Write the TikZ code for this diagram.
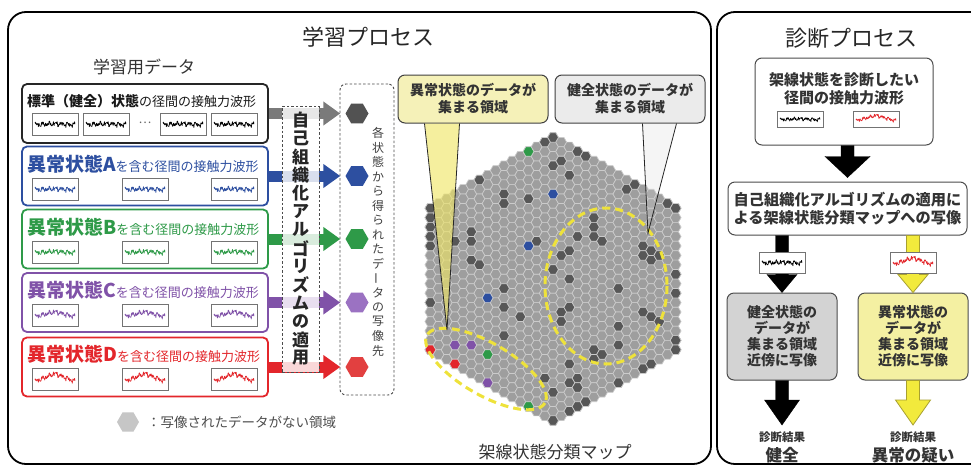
\documentclass[tikz,border=0pt]{standalone}
\usepackage{fontspec}
\setmainfont{Noto Sans CJK JP}
\usetikzlibrary{arrows.meta,calc,shapes.geometric}
\definecolor{cBlue}{HTML}{2D4FA0}
\definecolor{cGreen}{HTML}{2E9A48}
\definecolor{cPurple}{HTML}{8052A8}
\definecolor{cRed}{HTML}{E3262B}
\definecolor{cGrayA}{HTML}{7A7A7A}
\definecolor{hPurple}{HTML}{9B72C2}
\definecolor{hRed}{HTML}{E24040}
\definecolor{hLeg}{HTML}{C6C6C6}
\definecolor{yPtr}{HTML}{F0E664}
\definecolor{cellF}{HTML}{9E9E9E}
\definecolor{cellL}{HTML}{CBCBCB}
\definecolor{cellD}{HTML}{575757}
\definecolor{yFill}{HTML}{F5F1B8}
\definecolor{gFill}{HTML}{EBEBEB}
\definecolor{yDash}{HTML}{EEE23A}
\definecolor{yArrow}{HTML}{F2EA3C}
\definecolor{yArrowL}{HTML}{A8A030}
\definecolor{gBox}{HTML}{D3D3D3}
\definecolor{yBox}{HTML}{F4F0A2}
\definecolor{txt}{HTML}{333333}
\newcommand\fz[2]{\fontsize{#1}{#2}\selectfont}
\newcommand\wave[6]{%
  \node[wbox, minimum height=#6pt] (#1) at ({#2+23},{#3+#6/2}) {};
  \draw[#4, line width=0.7pt, line join=round] plot[domain=0:1, samples=120]
   ({#2+3+40*\x}, {#3+#6/2+0.5-(#6/22)*(1.2*sin(2300*\x)+0.9*sin(4100*\x+40)+0.8*sin(7300*\x+10)+0.8*sin(11000*\x+70)+0.6*sin(15700*\x+20))-#5*(0.75-2*abs(\x-0.5))});
}
\newcommand\fatarrow[6]{%
  \draw[#1] let \p1=(#2), \p2=(#3) in
   (\x1-#4pt,\y1) -- (\x1-#4pt,\y2+#6pt) -- (\x1-#5pt,\y2+#6pt) -- (\x1,\y2)
   -- (\x1+#5pt,\y2+#6pt) -- (\x1+#4pt,\y2+#6pt) -- (\x1+#4pt,\y1) -- cycle;}
\tikzset{
  panel/.style={draw=black, line width=1.8pt, rounded corners=18pt},
  dbox/.style={draw=#1, line width=1.8pt, rounded corners=5pt, fill=white, minimum width=246pt, minimum height=59pt},
  wbox/.style={draw=black!55, line width=0.8pt, fill=white, minimum width=46pt},
  hexmark/.style={regular polygon, regular polygon sides=6, minimum size=23pt, fill=#1},
  larrow/.style={line width=11pt, draw=#1, -{Triangle[length=17pt,width=23pt]}},
  dashbox/.style={draw=black!70, line width=0.9pt, dash pattern=on 2.5pt off 2pt},
  cell/.style={fill=cellF, draw=cellL, line width=0.7pt},
  ydash/.style={draw=yDash, line width=3pt, dash pattern=on 8pt off 5pt},
  rbox/.style={draw=black!70, line width=1pt, rounded corners=7pt, fill=white},
  vch/.style={font=\fz{12}{13}, text=black!75}
}
\begin{document}
\begin{tikzpicture}[x=1pt,y=-1pt, every node/.style={inner sep=0pt}]
\useasboundingbox (0,0) rectangle (971,469);
\fill[white] (0,0) rectangle (971,469);
% panels
\draw[panel] (8,12) rectangle (711,464);
\draw[panel] (717,12) rectangle (995,464);
\node[font=\fz{22}{26}, text=black!85] (t1) at (368,37) {学習プロセス};
\node[font=\fz{22}{26}, text=black!85] (t2) at (851,38) {診断プロセス};
\node[font=\fz{17}{20}, text=txt] (t3) at (144,67) {学習用データ};
% data boxes
\node[dbox=black!85] (d1) at (145,113.5) {};
\node[dbox=cBlue] (d2) at (145,176) {};
\node[dbox=cGreen] (d3) at (145,239) {};
\node[dbox=cPurple] (d4) at (145,302.5) {};
\node[dbox=cRed] (d5) at (145,367) {};
\node[anchor=west, text=black!90] (l1) at (27,101) {{\bfseries\fz{14}{16}標準（健全）状態}{\fz{13}{16}の径間の接触力波形}};
\node[anchor=west, text=cBlue] (l2) at (27,164) {{\bfseries\fz{19}{20}異常状態A}{\fz{13}{16}を含む径間の接触力波形}};
\node[anchor=west, text=cGreen] (l3) at (27,227) {{\bfseries\fz{19}{20}異常状態B}{\fz{13}{16}を含む径間の接触力波形}};
\node[anchor=west, text=cPurple] (l4) at (27,290) {{\bfseries\fz{19}{20}異常状態C}{\fz{13}{16}を含む径間の接触力波形}};
\node[anchor=west, text=cRed] (l5) at (27,354) {{\bfseries\fz{19}{20}異常状態D}{\fz{13}{16}を含む径間の接触力波形}};
% waveforms
\wave{w11}{32}{113}{black}{1}{22}
\wave{w12}{83}{113}{black}{1}{22}
\node[font=\fz{12}{12}, text=black!60] (dots) at (145,123) {…};
\wave{w13}{160}{113}{black}{1}{22}
\wave{w14}{211}{113}{black}{1}{22}
\foreach \xx [count=\i] in {32,122,211}{
  \wave{w2\i}{\xx}{178}{cBlue}{1}{22}
  \wave{w3\i}{\xx}{241}{cGreen}{1.5}{22}
  \wave{w4\i}{\xx}{304}{cPurple}{5}{22}
  \wave{w5\i}{\xx}{368}{cRed}{8}{22}
}
% destination hexes
\node[dashbox, rounded corners=6pt, minimum width=54pt, minimum height=311pt] (dst) at (367,239.5) {};
\node[hexmark=black!68] (h1) at (357,113.5) {};
\node[hexmark=cBlue] (h2) at (357,176) {};
\node[hexmark=cGreen] (h3) at (357,239) {};
\node[hexmark=hPurple] (h4) at (357,302.5) {};
\node[hexmark=hRed] (h5) at (357,367) {};
% arrows
\draw[larrow=cGrayA, shorten >=5pt] (d1.east) -- (h1.west);
\draw[larrow=cBlue, shorten >=5pt] (d2.east) -- (h2.west);
\draw[larrow=cGreen, shorten >=5pt] (d3.east) -- (h3.west);
\draw[larrow=cPurple, shorten >=5pt] (d4.east) -- (h4.west);
\draw[larrow=cRed, shorten >=5pt] (d5.east) -- (h5.west);
% algorithm box
\node[dashbox, fill=white, fill opacity=0.82, minimum width=37pt, minimum height=266pt] (alg) at (300.5,239) {};
\foreach \c [count=\i] in {自,己,組,織,化,ア,ル,ゴ,リ,ズ,ム,の,適,用}{
  \node[font=\bfseries\fz{17}{18}, text=black!85] (va\i) at (300.5,{120+18.3*(\i-1)}) {\c};
}
\foreach \c/\r [count=\i] in {各/0,状/0,態/0,か/0,ら/0,得/0,ら/0,れ/0,た/0,デ/0,ー/90,タ/0,の/0,写/0,像/0,先/0}{
  \node[vch, rotate=\r] (vb\i) at (378,{133+14.5*(\i-1)}) {\c};
}
% map cells
\foreach \q in {-15,...,15}{
  \pgfmathtruncatemacro\kmin{max(-15,-15-\q)}
  \pgfmathtruncatemacro\kmax{min(15,15-\q)}
  \foreach \k in {\kmin,...,\kmax}{
    \path[cell, shift={({553+8.175*\q},{279+9.44*\k+4.72*\q})}]
      (5.45,0) -- (2.725,4.72) -- (-2.725,4.72) -- (-5.45,0) -- (-2.725,-4.72) -- (2.725,-4.72) -- cycle;
  }
}
\foreach \px/\py/\cc in {553/136/cellD,543/142/cellD,580/151/cellD,589/157/cellD,561/161/cellD,553/167/cellD,483/177/cellD,570/177/cellD,623/187/cellD,632/183/cellD,500/198/cellD,508/202/cellD,527/203/cellD,429/207/cellD,667/203/cellD,677/207/cellD,428/218/cellD,430/228/cellD,428/238/cellD,430/248/cellD,473/233/cellD,473/243/cellD,457/243/cellD,473/263/cellD,482/269/cellD,535/238/cellD,563/253/cellD,570/247/cellD,580/233/cellD,590/235/cellD,598/243/cellD,592/222/cellD,597/230/cellD,553/270/cellD,500/290/cellD,500/310/cellD,428/300/cellD,517/320/cellD,508/337/cellD,572/280/cellD,563/315/cellD,572/310/cellD,562/325/cellD,615/285/cellD,642/248/cellD,650/253/cellD,642/258/cellD,650/263/cellD,658/260/cellD,677/270/cellD,677/290/cellD,642/310/cellD,650/315/cellD,658/320/cellD,615/325/cellD,677/342/cellD,677/350/cellD,597/347/cellD,605/358/cellD,615/345/cellD,597/357/cellD,572/360/cellD,580/377/cellD,572/382/cellD,580/385/cellD,617/385/cellD,640/370/cellD,650/365/cellD,543/377/cellD,553/393/cellD,570/412/cellD,578/407/cellD,588/402/cellD,553/423/cellD,
  527/151/cGreen,491/356/cGreen,527/407/cGreen,553/197/cBlue,527/243/cBlue,490/295/cBlue,456/346/cPurple,473/346/cPurple,491/387/cPurple,429/352/cRed,456/367/cRed}{
  \pgfmathsetmacro\qq{round((\px-553)/8.175)}
  \pgfmathsetmacro\kk{round((\py-279)/9.44-\qq/2)}
  \path[cell, fill=\cc, shift={({553+8.175*\qq},{279+9.44*\kk+4.72*\qq})}]
      (5.45,0) -- (2.725,4.72) -- (-2.725,4.72) -- (-5.45,0) -- (-2.725,-4.72) -- (2.725,-4.72) -- cycle;
}
% dashed regions
\draw[ydash] (606,286) ellipse [x radius=61, y radius=78];
\draw[ydash, shift={(486,369)}, rotate=-30] (0,0) ellipse [x radius=68, y radius=26];
% callouts
\node[rbox, draw=black!75, fill=yFill, minimum width=150pt, minimum height=48pt, align=center, font=\bfseries\fz{14}{17}, text=txt] (cy) at (473,99) {異常状態のデータが\\集まる領域};
\node[rbox, draw=black!75, fill=gFill, minimum width=150pt, minimum height=48pt, align=center, font=\bfseries\fz{14}{17}, text=txt] (cg) at (630,99) {健全状態のデータが\\集まる領域};
\coordinate (ytip) at (447,330);
\coordinate (gtip) at (648,233);
\fill[fill=yPtr, fill opacity=0.62] ($(cy.south west)+(27,0)$) -- (ytip) -- ($(cy.south west)+(62,0)$) -- cycle;
\draw[black!85, line width=0.8pt] ($(cy.south west)+(27,0)$) -- (ytip) -- ($(cy.south west)+(62,0)$);
\fill[fill=gray!30, fill opacity=0.25] ($(cg.south west)+(88,0)$) -- (gtip) -- ($(cg.south west)+(122,0)$) -- cycle;
\draw[black!85, line width=0.8pt] ($(cg.south west)+(88,0)$) -- (gtip) -- ($(cg.south west)+(122,0)$);
% legend and map label
\node[hexmark=hLeg, minimum size=22pt] (lg) at (128,422) {};
\node[anchor=west, font=\fz{13.5}{16}, text=black!70] (lgt) at (147,422) {：写像されたデータがない領域};
\node[font=\fz{17}{20}, text=txt] (mapt) at (555,452) {架線状態分類マップ};
% right panel
\node[rbox, minimum width=178pt, minimum height=87pt] (q1) at (844,101.5) {};
\node[font=\bfseries\fz{15}{18}, text=txt, align=center] (q1t) at (844,89) {架線状態を診断したい\\径間の接触力波形};
\wave{qw1}{777}{111}{black}{1}{16}
\wave{qw2}{853}{111}{cRed}{5.5}{16}
\node[rbox, minimum width=239pt, minimum height=53pt, align=center, font=\bfseries\fz{15.2}{18}, text=txt] (q2) at (847.5,208.5) {自己組織化アルゴリズムの適用に\\よる架線状態分類マップへの写像};
\node[rbox, fill=gBox, minimum width=110pt, minimum height=87pt, align=center, font=\bfseries\fz{14}{16}, text=txt] (gb) at (782,336.5) {健全状態の\\データが\\集まる領域\\近傍に写像};
\node[rbox, fill=yBox, minimum width=110pt, minimum height=87pt, align=center, font=\bfseries\fz{14}{16}, text=txt] (yb) at (913,336.5) {異常状態の\\データが\\集まる領域\\近傍に写像};
\coordinate (res1) at (782,425);
\coordinate (res2) at (913,425);
\fatarrow{fill=black}{q1.south -| q2.north}{$(q2.north)+(0,-4)$}{6.5}{22.5}{21}
\fatarrow{fill=black}{q2.south -| gb.north}{gb.north}{6.5}{15}{18}
\fatarrow{fill=yArrow, draw=yArrowL, line width=0.8pt}{q2.south -| yb.north}{yb.north}{6.5}{15}{18}
\fatarrow{fill=black}{gb.south}{res1}{6.5}{17.5}{25}
\fatarrow{fill=yArrow, draw=yArrowL, line width=0.8pt}{yb.south}{res2}{6.5}{17.5}{25}
\wave{qw3}{759}{252}{black}{1}{21}
\wave{qw4}{890}{252}{cRed}{7}{21}
\node[font=\bfseries\fz{11.5}{13}, text=txt] (r1a) at (782,437) {診断結果};
\node[font=\bfseries\fz{16.5}{18}, text=txt] (r1b) at (782,455) {健全};
\node[font=\bfseries\fz{11.5}{13}, text=txt] (r2a) at (913,437) {診断結果};
\node[font=\bfseries\fz{16.5}{18}, text=txt] (r2b) at (913,455) {異常の疑い};
\end{tikzpicture}
\end{document}
